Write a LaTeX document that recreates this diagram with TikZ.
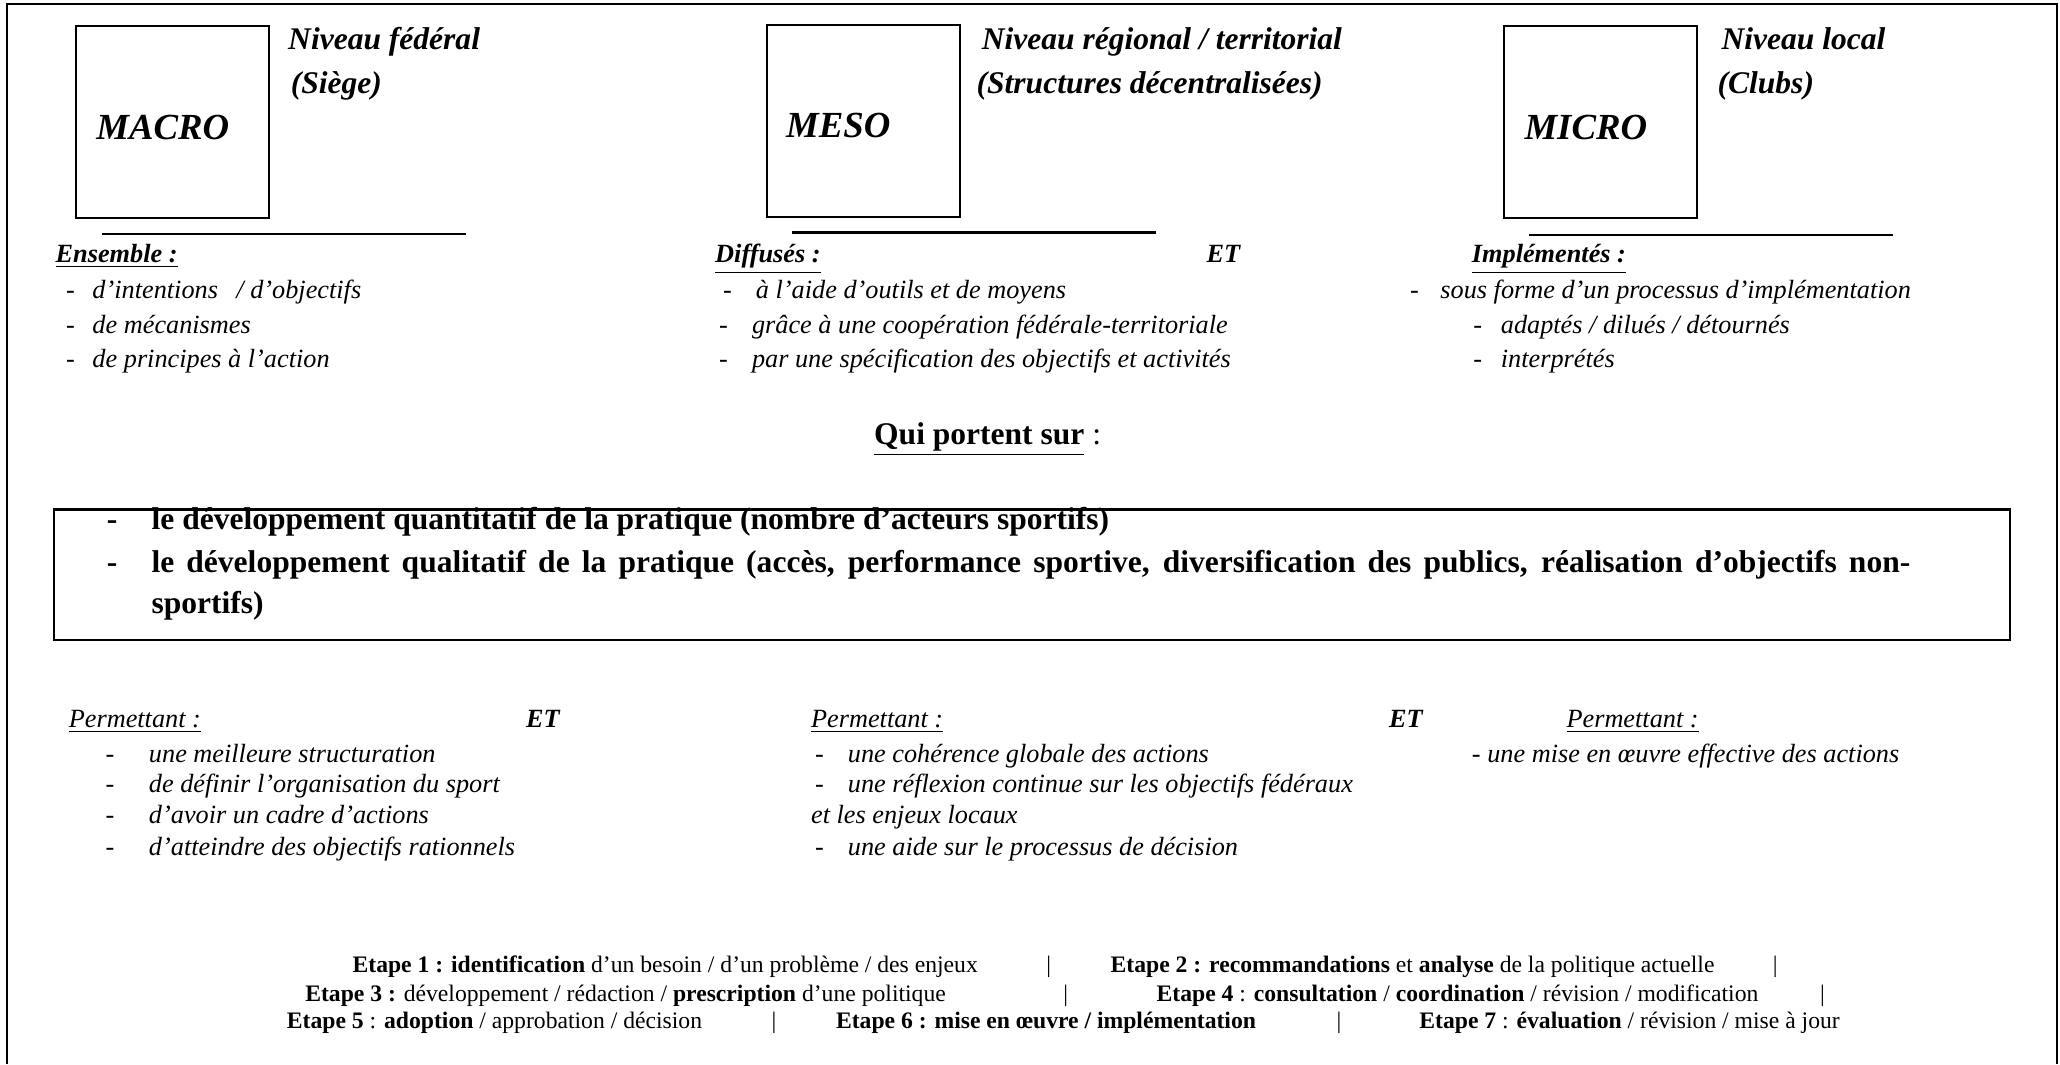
\documentclass[tikz,border=0pt]{standalone}
\usepackage{fontspec}
\setmainfont{Liberation Serif}
\begin{document}
\begin{tikzpicture}[x=0.5pt,y=-0.5pt,
  frame/.style={line width=0.8pt},
  lvlbox/.style={draw,line width=0.8pt,inner sep=0,minimum width=73.5pt,minimum height=73pt},
  bigbox/.style={draw,line width=1pt,inner sep=0,minimum width=744.5pt,minimum height=49.5pt},
  rule/.style={line width=0.8pt},
  txt/.style={anchor=base west,inner sep=0},
  lvl/.style={txt,font=\fontsize{14}{16}\selectfont\bfseries\itshape},
  head/.style={txt,font=\fontsize{12}{14}\selectfont\bfseries\itshape},
  sect/.style={txt,font=\fontsize{10}{12}\selectfont\bfseries\itshape},
  item/.style={txt,font=\fontsize{10}{12}\selectfont\itshape},
  big/.style={txt,font=\fontsize{12}{14}\selectfont\bfseries},
  etape/.style={txt,font=\fontsize{9}{11}\selectfont}]
\useasboundingbox (0,0) rectangle (1568,810);
% outer frame (open at the bottom)
\coordinate (fbl) at (5.3,810); \coordinate (ftl) at (5.3,2.8);
\coordinate (ftr) at (1565.5,2.8); \coordinate (fbr) at (1565.5,810);
\draw[frame] (fbl) -- (ftl) -- (ftr) -- (fbr);
% level boxes
\node[lvlbox] (macro) at (131.5,93) {};
\node[lvl] (macrot) at (73,106) {MACRO};
\node[lvlbox] (meso) at (657,92) {};
\node[lvl] (mesot) at (598,105) {MESO};
\node[lvlbox] (micro) at (1218,93) {};
\node[lvl] (microt) at (1160,106) {MICRO};
% headings
\node[head] (h1a) at (219,38) {Niveau fédéral};
\node[head] (h1b) at (221,71) {(Siège)};
\node[head] (h2a) at (747,38) {Niveau régional / territorial};
\node[head] (h2b) at (743,71) {(Structures décentralisées)};
\node[head] (h3a) at (1310,38) {Niveau local};
\node[head] (h3b) at (1307,71) {(Clubs)};
% rules
\coordinate (r1a) at (78,178); \coordinate (r1b) at (355,178);
\coordinate (r2a) at (603,177); \coordinate (r2b) at (880,177);
\coordinate (r3a) at (1164,179); \coordinate (r3b) at (1441,179);
\draw[rule] (r1a) -- (r1b);
\draw[rule] (r2a) -- (r2b);
\draw[rule] (r3a) -- (r3b);
% upper sections
\node[sect] (s1) at (42,200) {\underline{Ensemble :}};
\node[sect] (s2) at (544,200) {\underline{Diffusés :}};
\node[sect] (et1) at (918,200) {ET};
\node[sect] (s3) at (1120,200) {\underline{Implémentés :}};
\node[item] (a1d) at (50,227) {-};
\node[item] (a1) at (70,227) {d’intentions\hspace{7pt}/ d’objectifs};
\node[item] (a2d) at (50,254) {-};
\node[item] (a2) at (70,254) {de mécanismes};
\node[item] (a3d) at (50,280) {-};
\node[item] (a3) at (70,280) {de principes à l’action};
\node[item] (b1d) at (550,227) {-};
\node[item] (b1) at (575,227) {à l’aide d’outils et de moyens};
\node[item] (b2d) at (547,254) {-};
\node[item] (b2) at (572,254) {grâce à une coopération fédérale-territoriale};
\node[item] (b3d) at (547,280) {-};
\node[item] (b3) at (572,280) {par une spécification des objectifs et activités};
\node[item] (c1d) at (1073,227) {-};
\node[item] (c1) at (1096,227) {sous forme d’un processus d’implémentation};
\node[item] (c2d) at (1121,254) {-};
\node[item] (c2) at (1142,254) {adaptés / dilués / détournés};
\node[item] (c3d) at (1121,280) {-};
\node[item] (c3) at (1142,280) {interprétés};
% middle
\node[txt,font=\fontsize{12}{14}\selectfont] (qui) at (665,338) {\textbf{\underline{Qui portent sur}} :};
\node[bigbox] (box) at (785.5,437.5) {};
\node[big] (p1d) at (81,403) {-};
\node[big] (p1) at (115,403) {le développement quantitatif de la pratique (nombre d’acteurs sportifs)};
\node[big] (p2d) at (81,436) {-};
\node[big] (p2) at (115,436) {\makebox[669.3pt][s]{le développement qualitatif de la pratique (accès, performance sportive, diversification des publics, réalisation d’objectifs non-}};
\node[big] (p3) at (115,467) {sportifs)};
% lower sections
\node[item] (q1) at (52,554) {\underline{Permettant :}};
\node[sect] (et2) at (400,554) {ET};
\node[item] (q2) at (617,554) {\underline{Permettant :}};
\node[sect] (et3) at (1057,554) {ET};
\node[item] (q3) at (1192,554) {\underline{Permettant :}};
\node[item] (d1d) at (80,580) {-};
\node[item] (d1) at (113,580) {une meilleure structuration};
\node[item] (d2d) at (80,603.5) {-};
\node[item] (d2) at (113,603.5) {de définir l’organisation du sport};
\node[item] (d3d) at (80,627) {-};
\node[item] (d3) at (113,627) {d’avoir un cadre d’actions};
\node[item] (d4d) at (80,651) {-};
\node[item] (d4) at (113,651) {d’atteindre des objectifs rationnels};
\node[item] (e1d) at (620,580) {-};
\node[item] (e1) at (645,580) {une cohérence globale des actions};
\node[item] (e2d) at (620,603.5) {-};
\node[item] (e2) at (645,603.5) {une réflexion continue sur les objectifs fédéraux};
\node[item] (e3) at (617,627) {et les enjeux locaux};
\node[item] (e4d) at (620,651) {-};
\node[item] (e4) at (645,651) {une aide sur le processus de décision};
\node[item] (f1) at (1120,580) {- une mise en œuvre effective des actions};
% steps
\node[etape] (t1) at (268,740) {\textbf{Etape 1 : identification} d’un besoin / d’un problème / des enjeux};
\node[etape] (t1s) at (796,740) {|};
\node[etape] (t2) at (845,740) {\textbf{Etape 2 : recommandations} et \textbf{analyse} de la politique actuelle};
\node[etape] (t2s) at (1349,740) {|};
\node[etape] (t3) at (232,762) {\textbf{Etape 3 :} développement / rédaction / \textbf{prescription} d’une politique};
\node[etape] (t3s) at (809,762) {|};
\node[etape] (t4) at (880,762) {\textbf{Etape 4} : \textbf{consultation} / \textbf{coordination} / révision / modification};
\node[etape] (t4s) at (1385,762) {|};
\node[etape] (t5) at (218,783) {\textbf{Etape 5} : \textbf{adoption} / approbation / décision};
\node[etape] (t5s) at (587,783) {|};
\node[etape] (t6) at (636,783) {\textbf{Etape 6 : mise en œuvre / implémentation}};
\node[etape] (t6s) at (1017,783) {|};
\node[etape] (t7) at (1080,783) {\textbf{Etape 7} : \textbf{évaluation} / révision / mise à jour};
\end{tikzpicture}
\end{document}
